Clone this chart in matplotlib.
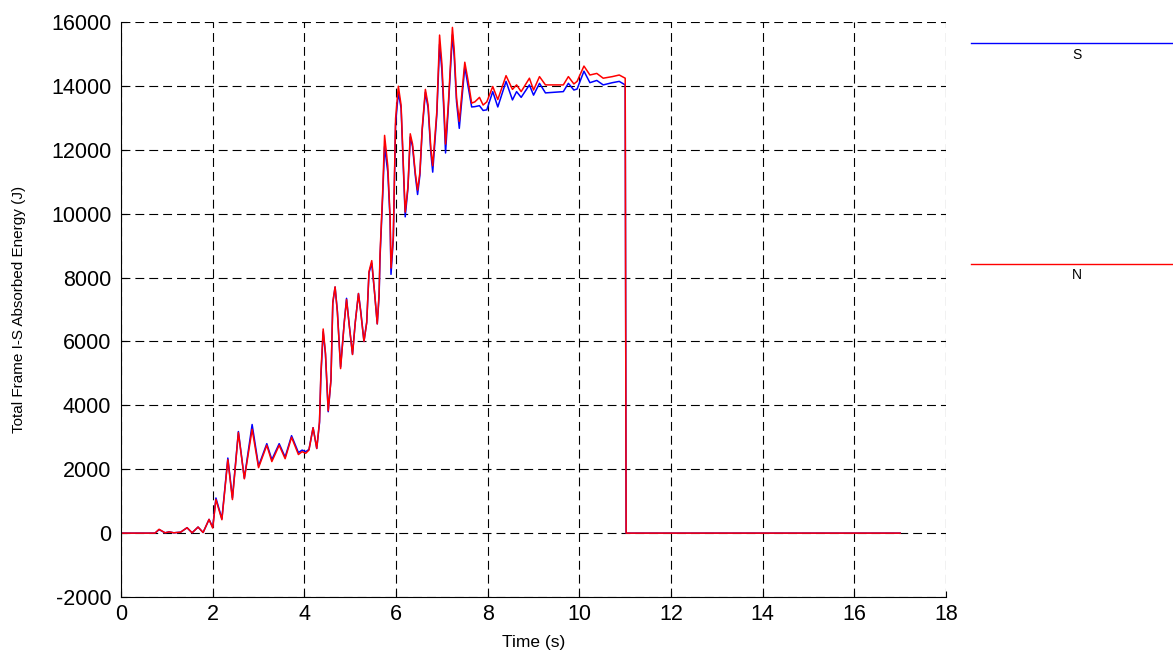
import numpy as np
import matplotlib
matplotlib.use("Agg")
import matplotlib.pyplot as plt
from matplotlib.lines import Line2D

plt.rcParams['font.family'] = ['Liberation Sans', 'DejaVu Sans']
plt.rcParams['axes.unicode_minus'] = False

# time (s) and absorbed energy (J)
t = [0.0, 0.74, 0.83, 0.96, 1.05, 1.15, 1.3, 1.44, 1.55, 1.68, 1.79, 1.92,
     2.0, 2.07, 2.2, 2.33, 2.43, 2.56, 2.69, 2.86, 3.0, 3.18, 3.29, 3.45,
     3.58, 3.72, 3.87, 3.95, 4.03, 4.1, 4.19, 4.27, 4.33, 4.36, 4.41, 4.46,
     4.52, 4.58, 4.62, 4.67, 4.72, 4.79, 4.87, 4.92, 4.98, 5.05, 5.11, 5.18,
     5.23, 5.3, 5.36, 5.41, 5.47, 5.53, 5.59, 5.63, 5.65, 5.71, 5.75, 5.82,
     5.87, 5.89, 5.94, 5.99, 6.05, 6.11, 6.16, 6.2, 6.26, 6.31, 6.36, 6.42,
     6.47, 6.52, 6.57, 6.64, 6.7, 6.76, 6.8, 6.89, 6.95, 7.0, 7.05, 7.08,
     7.14, 7.23, 7.27, 7.32, 7.38, 7.45, 7.5, 7.57, 7.65, 7.72, 7.82, 7.9,
     7.98, 8.11, 8.22, 8.4, 8.54, 8.63, 8.73, 8.91, 9.0, 9.13, 9.26, 9.65,
     9.76, 9.88, 9.95, 10.1, 10.23, 10.38, 10.52, 10.72, 10.87, 11.0, 11.02,
     17.0]

energy_N = [0, 0, 120, 10, 40, 10, 30, 170, 10, 190, 20, 430,
            160, 1050, 420, 2300, 1050, 3150, 1700, 3250, 2050, 2750, 2240, 2750,
            2330, 3000, 2460, 2550, 2500, 2600, 3300, 2650, 3500, 5000, 6390, 5640,
            3830, 4790, 7230, 7710, 6910, 5150, 6590, 7310, 6490, 5590, 6590, 7500,
            6910, 6000, 6590, 8190, 8530, 7550, 6550, 7500, 8720, 10740, 12450, 11490,
            9900, 8300, 9260, 12980, 13990, 13400, 11490, 10050, 10850, 12500, 12180, 11280,
            10740, 11280, 12660, 13890, 13400, 12020, 11500, 13200, 15590, 14700, 13200, 12180,
            13400, 15830, 15110, 13620, 12890, 13980, 14740, 14180, 13460, 13500, 13640, 13400,
            13500, 13980, 13570, 14320, 13890, 14030, 13820, 14240, 13870, 14290, 14030, 14030,
            14290, 14060, 14140, 14620, 14340, 14390, 14240, 14290, 14340, 14240, 0,
            0]

energy_S = [0, 0, 110, 10, 40, 10, 30, 170, 10, 190, 20, 430,
            180, 1100, 450, 2350, 1100, 3180, 1720, 3400, 2100, 2800, 2300, 2800,
            2380, 3050, 2520, 2600, 2550, 2620, 3300, 2650, 3450, 4900, 6300, 5600,
            3800, 4800, 7200, 7700, 6950, 5200, 6600, 7350, 6500, 5600, 6600, 7500,
            6950, 6000, 6600, 8150, 8450, 7550, 6550, 7400, 8600, 10600, 12100, 11300,
            9800, 8100, 9200, 12800, 13800, 13300, 11400, 9900, 10800, 12400, 12100, 11200,
            10600, 11200, 12600, 13800, 13300, 11900, 11300, 13100, 15300, 14500, 13000, 11900,
            13300, 15600, 14900, 13500, 12670, 13800, 14600, 14000, 13340, 13350, 13380, 13230,
            13250, 13820, 13340, 14140, 13560, 13820, 13640, 14030, 13710, 14080, 13780, 13820,
            14080, 13870, 13900, 14460, 14100, 14170, 14030, 14100, 14140, 14030, 0,
            0]

fig = plt.figure(figsize=(11.73, 6.56), dpi=100)
ax = fig.add_axes([0.1032, 0.0899, 0.7033, 0.8766])

ax.plot(t, energy_S, color='blue', linewidth=1.1)
ax.plot(t, energy_N, color='red', linewidth=1.1)

ax.set_xlim(0, 18)
ax.set_ylim(-2000, 16000)
ax.set_xticks(np.arange(0, 19, 2))
ax.set_yticks(np.arange(-2000, 16001, 2000))
ax.grid(True, color='k', linestyle=(0, (8, 4.5)), linewidth=0.8)
ax.spines['top'].set_visible(False)
ax.spines['right'].set_visible(False)
ax.tick_params(direction='in', length=4, labelsize=15.5)
ax.tick_params(axis='y', pad=7)
ax.tick_params(axis='x', pad=5)
ax.set_xlabel('Time (s)', fontsize=12.5, labelpad=7)
ax.set_ylabel('Total Frame I-S Absorbed Energy (J)', fontsize=11, labelpad=18)

# legend drawn outside the axes, as in the original
fig.add_artist(Line2D([0.8278, 1.0], [0.9345, 0.9345], color='blue',
                      linewidth=1.0, transform=fig.transFigure))
fig.add_artist(Line2D([0.8278, 1.0], [0.5976, 0.5976], color='red',
                      linewidth=1.0, transform=fig.transFigure))
fig.text(0.918, 0.916, 'S', ha='center', va='center', fontsize=10)
fig.text(0.918, 0.581, 'N', ha='center', va='center', fontsize=10)

fig.savefig('out.png', dpi=100)
